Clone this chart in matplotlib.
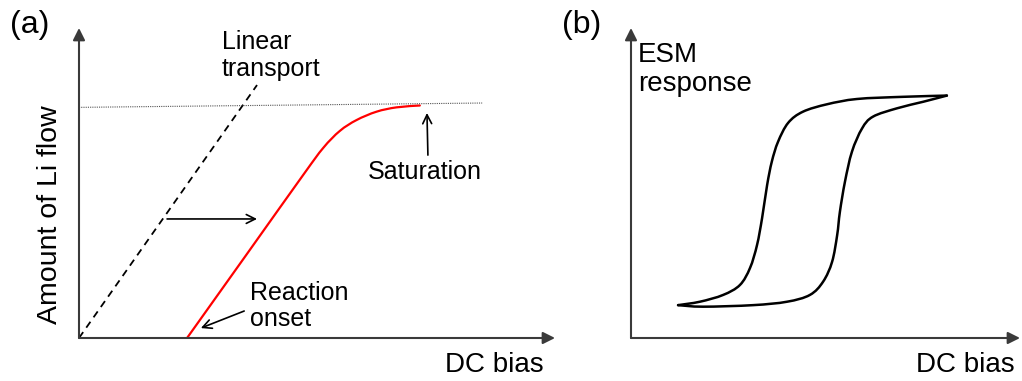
import matplotlib.pyplot as plt
import numpy as np
from matplotlib.path import Path
from matplotlib.patches import PathPatch

plt.rcParams["font.family"] = ["Liberation Sans", "DejaVu Sans"]

# (a) schematic: Li flow vs DC bias (arbitrary units, 0..10 on both axes)
linear_x = [0.0, 3.74]
linear_y = [0.0, 8.16]

saturation_x = [0.0, 8.47]
saturation_y = [7.44, 7.58]

reaction_x = [2.27, 3.50, 4.71, 5.13, 5.48, 5.83, 6.25, 6.67, 7.16]
reaction_y = [0.00, 2.65, 5.26, 6.13, 6.68, 7.03, 7.30, 7.44, 7.50]

shift_arrow_x = [1.85, 3.74]
shift_arrow_y = 3.84

sat_arrow_tail = (7.33, 5.90)
sat_arrow_head = (7.31, 7.26)
onset_arrow_tail = (3.47, 0.87)
onset_arrow_head = (2.56, 0.32)

# (b) schematic: ESM hysteresis loop
loop_down_x = [8.12, 6.99, 5.81, 5.04, 4.42, 4.04, 3.78, 3.62, 3.50, 3.37,
               3.24, 3.06, 2.80, 2.37, 1.77, 1.21]
loop_down_y = [7.82, 7.78, 7.71, 7.54, 7.30, 6.94, 6.33, 5.69, 4.94, 3.87,
               3.00, 2.26, 1.71, 1.39, 1.17, 1.06]
loop_up_x = [1.21, 1.85, 3.14, 4.01, 4.60, 4.94, 5.17, 5.30, 5.37, 5.50,
             5.68, 5.94, 6.22, 6.84, 7.51, 8.12]
loop_up_y = [1.06, 1.01, 1.06, 1.17, 1.39, 1.82, 2.46, 3.32, 4.07, 5.04,
             6.01, 6.76, 7.14, 7.41, 7.62, 7.82]

AXIS_COLOR = "#3a3a3a"
W, H = 1022, 381

fig = plt.figure(figsize=(W / 100, H / 100), dpi=100)


def smooth_path(xs, ys, tension=1 / 6):
    """Cubic Bezier path through the given points (Catmull-Rom handles)."""
    pts = np.column_stack([xs, ys]).astype(float)
    verts = [pts[0]]
    codes = [Path.MOVETO]
    n = len(pts)
    for i in range(n - 1):
        p0 = pts[max(i - 1, 0)]
        p1 = pts[i]
        p2 = pts[i + 1]
        p3 = pts[min(i + 2, n - 1)]
        verts += [p1 + (p2 - p0) * tension, p2 - (p3 - p1) * tension, p2]
        codes += [Path.CURVE4] * 3
    return Path(verts, codes)


def draw_curve(ax, xs, ys, **kw):
    ax.add_patch(PathPatch(smooth_path(xs, ys), fill=False,
                           capstyle="round", joinstyle="round", **kw))


def add_panel(left_px, right_px, bottom_px=338, top_px=28):
    ax = fig.add_axes([left_px / W, (H - bottom_px) / H,
                       (right_px - left_px) / W, (bottom_px - top_px) / H])
    ax.set_xlim(0, 10)
    ax.set_ylim(0, 10)
    ax.axis("off")
    axis_arrow = dict(arrowstyle="-|>", color=AXIS_COLOR, lw=1.5,
                      mutation_scale=18, shrinkA=0, shrinkB=0)
    ax.annotate("", xy=(10, 0), xytext=(0, 0), arrowprops=axis_arrow,
                annotation_clip=False)
    ax.annotate("", xy=(0, 10), xytext=(0, 0), arrowprops=axis_arrow,
                annotation_clip=False)
    return ax


pointer = dict(arrowstyle="->", color="black", lw=1.2, mutation_scale=16,
               shrinkA=0, shrinkB=0)

# ---- panel (a)
ax = add_panel(79, 555)
ax.plot(linear_x, linear_y, color="black", lw=1.3, ls=(0, (4, 3)))
ax.plot(saturation_x, saturation_y, color="#555555", lw=0.8, ls=(0, (1, 1)))
draw_curve(ax, reaction_x, reaction_y, color="red", lw=1.6)
ax.annotate("", xy=(shift_arrow_x[1], shift_arrow_y),
            xytext=(shift_arrow_x[0], shift_arrow_y), arrowprops=pointer)
ax.annotate("", xy=sat_arrow_head, xytext=sat_arrow_tail, arrowprops=pointer)
ax.annotate("", xy=onset_arrow_head, xytext=onset_arrow_tail, arrowprops=pointer)

ax.text(3.0, 9.94, "Linear\ntransport", fontsize=18, ha="left", va="top",
        linespacing=1.15)
ax.text(6.07, 5.35, "Saturation", fontsize=18, ha="left", va="center")
ax.text(3.59, 1.85, "Reaction\nonset", fontsize=18, ha="left", va="top",
        linespacing=1.15)
ax.text(7.69, -0.87, "DC bias", fontsize=20, ha="left", va="center")
ax.text(-0.61, 3.97, "Amount of Li flow", fontsize=20.5, rotation=90,
        ha="center", va="center")

# ---- panel (b)
bx = add_panel(631, 1020)
draw_curve(bx, loop_down_x, loop_down_y, color="black", lw=1.8)
draw_curve(bx, loop_up_x, loop_up_y, color="black", lw=1.8)
bx.text(0.18, 9.55, "ESM\nresponse", fontsize=20, ha="left", va="top",
        linespacing=1.15)
bx.text(7.33, -0.87, "DC bias", fontsize=20, ha="left", va="center")

fig.text(30 / W, 1 - 25 / H, "(a)", fontsize=23, ha="center", va="center")
fig.text(582 / W, 1 - 25 / H, "(b)", fontsize=23, ha="center", va="center")

fig.savefig("out.png", dpi=100)
